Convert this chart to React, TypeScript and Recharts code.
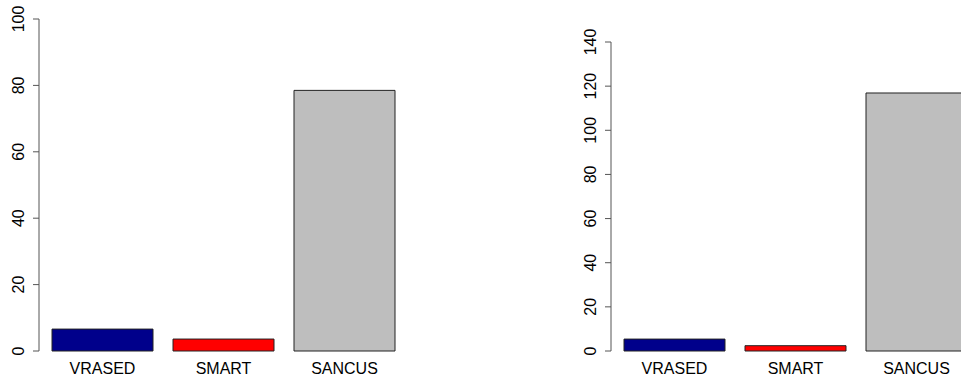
import { BarChart, Bar, XAxis, YAxis, Cell } from 'recharts';

const CATEGORIES = ['VRASED', 'SMART', 'SANCUS'];
const LEFT_VALUES = [6.6, 3.6, 78.5];
const RIGHT_VALUES = [5.4, 2.4, 116.9];
const LEFT_TICKS = [0, 20, 40, 60, 80, 100];
const RIGHT_TICKS = [0, 20, 40, 60, 80, 100, 120, 140];

const BAR_COLORS = ['#00008B', '#FF0000', '#BEBEBE'];
const FONT = '"Liberation Sans", Arial, sans-serif';

const leftData = CATEGORIES.map((name, i) => ({ name, value: LEFT_VALUES[i] }));
const rightData = CATEGORIES.map((name, i) => ({ name, value: RIGHT_VALUES[i] }));

// rotated tick labels, baseline next to the axis like base R graphics
const YTick = (props: any) => {
  const { x, y, payload } = props;
  return (
    <text
      x={x}
      y={y}
      transform={`rotate(-90 ${x} ${y})`}
      textAnchor="middle"
      fontSize={16}
      fontFamily={FONT}
      fill="#000"
    >
      {payload.value}
    </text>
  );
};

const XTick = (props: any) => {
  const { x, y, payload } = props;
  return (
    <text x={x} y={y + 23} textAnchor="middle" fontSize={16} fontFamily={FONT} fill="#000">
      {payload.value}
    </text>
  );
};

type PanelProps = {
  data: { name: string; value: number }[];
  ticks: number[];
  max: number;
  top: number;
  axisWidth: number;
  width: number;
};

function Panel({ data, ticks, max, top, axisWidth, width }: PanelProps) {
  return (
    <BarChart width={width} height={381} data={data} margin={{ top, right: 0, bottom: 0, left: 0 }}>
      <XAxis
        dataKey="name"
        height={30}
        axisLine={false}
        tickLine={false}
        tickSize={0}
        tickMargin={0}
        padding={{ left: 3, right: 4 }}
        tick={<XTick />}
        interval={0}
      />
      <YAxis
        width={axisWidth}
        domain={[0, max]}
        ticks={ticks}
        interval={0}
        stroke="#555"
        tickSize={6}
        tickMargin={9}
        tick={<YTick />}
      />
      <Bar dataKey="value" barSize={101} stroke="#222" strokeWidth={1} isAnimationActive={false}>
        {data.map((d, i) => (
          <Cell key={d.name} fill={BAR_COLORS[i]} />
        ))}
      </Bar>
    </BarChart>
  );
}

export default function App() {
  return (
    <div
      style={{
        position: 'fixed',
        left: 0,
        top: 0,
        width: 961,
        height: 381,
        overflow: 'hidden',
        background: '#fff',
      }}
    >
      <div style={{ position: 'absolute', left: 0, top: 0 }}>
        <Panel data={leftData} ticks={LEFT_TICKS} max={100} top={19} axisWidth={39} width={409} />
      </div>
      <div style={{ position: 'absolute', left: 560, top: 0 }}>
        <Panel data={rightData} ticks={RIGHT_TICKS} max={140} top={42} axisWidth={51} width={421} />
      </div>
    </div>
  );
}
